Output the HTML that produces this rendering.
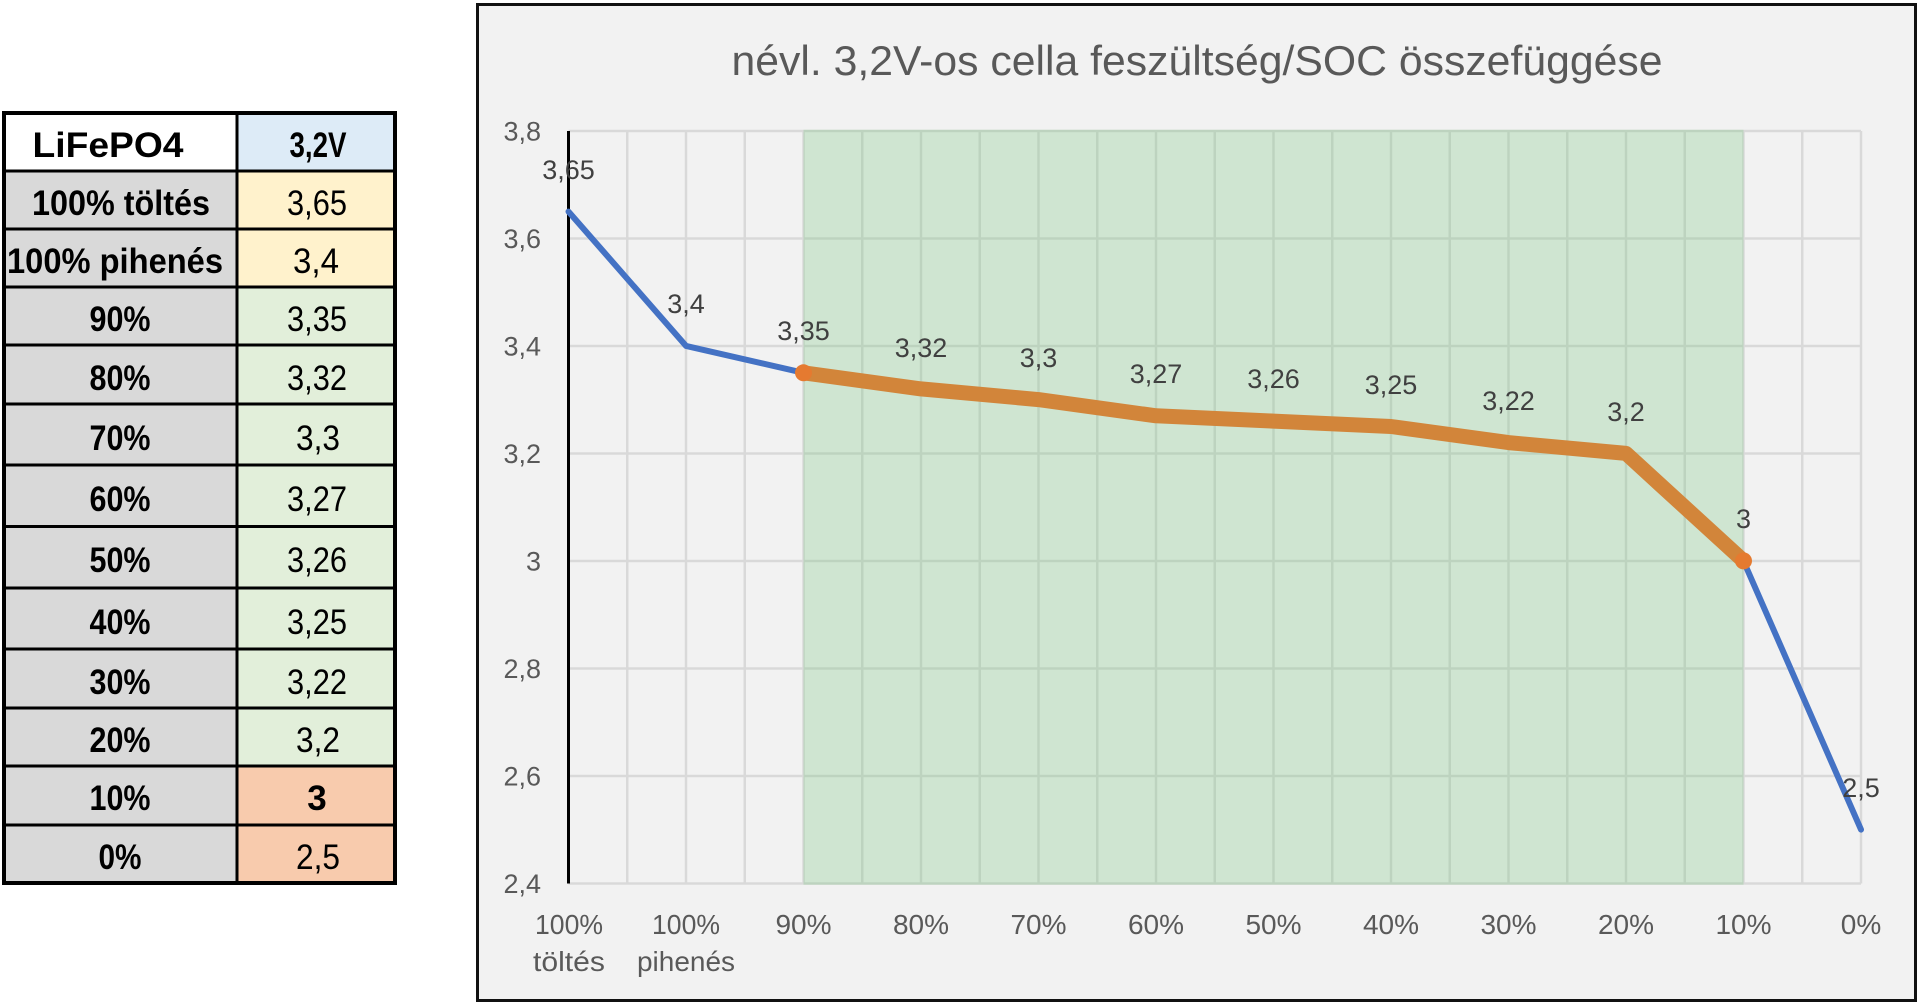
<!DOCTYPE html>
<html>
<head>
<meta charset="utf-8">
<style>
  html,body{margin:0;padding:0;background:#fff;}
  svg{display:block;}
  text{font-family:"Liberation Sans", Arial, sans-serif;}
</style>
</head>
<body>
<svg width="1920" height="1005" viewBox="0 0 1920 1005" xmlns="http://www.w3.org/2000/svg">
  <rect x="0" y="0" width="1920" height="1005" fill="#ffffff"/>

  <!-- ================= TABLE ================= -->
  <rect x="3" y="112.5" width="234" height="58.5" fill="#ffffff"/>
  <rect x="3" y="171" width="234" height="712" fill="#d9d9d9"/>
  <rect x="237" y="112.5" width="158" height="58.5" fill="#ddebf7"/>
  <rect x="237" y="171" width="158" height="116" fill="#fff2cc"/>
  <rect x="237" y="287" width="158" height="479" fill="#e2efda"/>
  <rect x="237" y="766" width="158" height="117" fill="#f8cbad"/>

  <g stroke="#000" stroke-width="3">
    <line x1="3" y1="171" x2="395" y2="171"/>
    <line x1="3" y1="229" x2="395" y2="229"/>
    <line x1="3" y1="287" x2="395" y2="287"/>
    <line x1="3" y1="345" x2="395" y2="345"/>
    <line x1="3" y1="404" x2="395" y2="404"/>
    <line x1="3" y1="465" x2="395" y2="465"/>
    <line x1="3" y1="526.5" x2="395" y2="526.5"/>
    <line x1="3" y1="588" x2="395" y2="588"/>
    <line x1="3" y1="649" x2="395" y2="649"/>
    <line x1="3" y1="708" x2="395" y2="708"/>
    <line x1="3" y1="766" x2="395" y2="766"/>
    <line x1="3" y1="825" x2="395" y2="825"/>
    <line x1="237" y1="112.5" x2="237" y2="883"/>
  </g>
  <rect x="4" y="113" width="391" height="770" fill="none" stroke="#000" stroke-width="4"/>

  <g font-weight="bold" font-size="35" fill="#000" text-anchor="middle">
    <text x="108" y="157" textLength="151" lengthAdjust="spacingAndGlyphs">LiFePO4</text>
    <text x="121" y="215" textLength="178" lengthAdjust="spacingAndGlyphs">100% töltés</text>
    <text x="115" y="273" textLength="216" lengthAdjust="spacingAndGlyphs">100% pihenés</text>
    <text x="120" y="331" textLength="61" lengthAdjust="spacingAndGlyphs">90%</text>
    <text x="120" y="390" textLength="61" lengthAdjust="spacingAndGlyphs">80%</text>
    <text x="120" y="450" textLength="61" lengthAdjust="spacingAndGlyphs">70%</text>
    <text x="120" y="511" textLength="61" lengthAdjust="spacingAndGlyphs">60%</text>
    <text x="120" y="572" textLength="61" lengthAdjust="spacingAndGlyphs">50%</text>
    <text x="120" y="634" textLength="61" lengthAdjust="spacingAndGlyphs">40%</text>
    <text x="120" y="694" textLength="61" lengthAdjust="spacingAndGlyphs">30%</text>
    <text x="120" y="752" textLength="61" lengthAdjust="spacingAndGlyphs">20%</text>
    <text x="120" y="810" textLength="61" lengthAdjust="spacingAndGlyphs">10%</text>
    <text x="120" y="869" textLength="43" lengthAdjust="spacingAndGlyphs">0%</text>
  </g>
  <g font-size="35" fill="#000" text-anchor="middle">
    <text x="318" y="157" font-weight="bold" textLength="57" lengthAdjust="spacingAndGlyphs">3,2V</text>
    <text x="317" y="215" textLength="60" lengthAdjust="spacingAndGlyphs">3,65</text>
    <text x="316" y="273" textLength="46" lengthAdjust="spacingAndGlyphs">3,4</text>
    <text x="317" y="331" textLength="60" lengthAdjust="spacingAndGlyphs">3,35</text>
    <text x="317" y="390" textLength="60" lengthAdjust="spacingAndGlyphs">3,32</text>
    <text x="318" y="450" textLength="44" lengthAdjust="spacingAndGlyphs">3,3</text>
    <text x="317" y="511" textLength="60" lengthAdjust="spacingAndGlyphs">3,27</text>
    <text x="317" y="572" textLength="60" lengthAdjust="spacingAndGlyphs">3,26</text>
    <text x="317" y="634" textLength="60" lengthAdjust="spacingAndGlyphs">3,25</text>
    <text x="317" y="694" textLength="60" lengthAdjust="spacingAndGlyphs">3,22</text>
    <text x="318" y="752" textLength="44" lengthAdjust="spacingAndGlyphs">3,2</text>
    <text x="317" y="810" font-weight="bold">3</text>
    <text x="318" y="869" textLength="44" lengthAdjust="spacingAndGlyphs">2,5</text>
  </g>

  <!-- ================= CHART ================= -->
  <rect x="477.5" y="4.5" width="1438" height="996" fill="#f2f2f2" stroke="#111" stroke-width="3"/>

  <text x="1197" y="75" font-size="42" fill="#595959" text-anchor="middle" textLength="931" lengthAdjust="spacingAndGlyphs">névl. 3,2V-os cella feszültség/SOC összefüggése</text>

  <g stroke="#d9d9d9" stroke-width="2.5">
    <line x1="568.5" y1="131" x2="1861" y2="131"/>
    <line x1="568.5" y1="238.5" x2="1861" y2="238.5"/>
    <line x1="568.5" y1="346" x2="1861" y2="346"/>
    <line x1="568.5" y1="453.5" x2="1861" y2="453.5"/>
    <line x1="568.5" y1="561" x2="1861" y2="561"/>
    <line x1="568.5" y1="668.5" x2="1861" y2="668.5"/>
    <line x1="568.5" y1="776" x2="1861" y2="776"/>
    <line x1="568.5" y1="883.5" x2="1861" y2="883.5"/>

    <line x1="627.25" y1="131" x2="627.25" y2="883.5"/>
    <line x1="686" y1="131" x2="686" y2="883.5"/>
    <line x1="744.75" y1="131" x2="744.75" y2="883.5"/>
    <line x1="803.5" y1="131" x2="803.5" y2="883.5"/>
    <line x1="862.25" y1="131" x2="862.25" y2="883.5"/>
    <line x1="921" y1="131" x2="921" y2="883.5"/>
    <line x1="979.75" y1="131" x2="979.75" y2="883.5"/>
    <line x1="1038.5" y1="131" x2="1038.5" y2="883.5"/>
    <line x1="1097.25" y1="131" x2="1097.25" y2="883.5"/>
    <line x1="1156" y1="131" x2="1156" y2="883.5"/>
    <line x1="1214.75" y1="131" x2="1214.75" y2="883.5"/>
    <line x1="1273.5" y1="131" x2="1273.5" y2="883.5"/>
    <line x1="1332.25" y1="131" x2="1332.25" y2="883.5"/>
    <line x1="1391" y1="131" x2="1391" y2="883.5"/>
    <line x1="1449.75" y1="131" x2="1449.75" y2="883.5"/>
    <line x1="1508.5" y1="131" x2="1508.5" y2="883.5"/>
    <line x1="1567.25" y1="131" x2="1567.25" y2="883.5"/>
    <line x1="1626" y1="131" x2="1626" y2="883.5"/>
    <line x1="1684.75" y1="131" x2="1684.75" y2="883.5"/>
    <line x1="1743.5" y1="131" x2="1743.5" y2="883.5"/>
    <line x1="1802.25" y1="131" x2="1802.25" y2="883.5"/>
    <line x1="1861" y1="131" x2="1861" y2="883.5"/>
  </g>

  <rect x="803.5" y="129.75" width="940" height="755" fill="#75c77c" fill-opacity="0.28"/>

  <line x1="568.5" y1="131" x2="568.5" y2="883.5" stroke="#000" stroke-width="3"/>

  <g font-size="27" fill="#595959" text-anchor="end">
    <text x="541" y="140.5">3,8</text>
    <text x="541" y="248">3,6</text>
    <text x="541" y="355.5">3,4</text>
    <text x="541" y="463">3,2</text>
    <text x="541" y="570.5">3</text>
    <text x="541" y="678">2,8</text>
    <text x="541" y="785.5">2,6</text>
    <text x="541" y="893">2,4</text>
  </g>

  <g font-size="28" fill="#595959" text-anchor="middle">
    <text x="569" y="934" textLength="68" lengthAdjust="spacingAndGlyphs">100%</text>
    <text x="569" y="971" textLength="72" lengthAdjust="spacingAndGlyphs">töltés</text>
    <text x="686" y="934" textLength="68" lengthAdjust="spacingAndGlyphs">100%</text>
    <text x="686" y="971" textLength="98" lengthAdjust="spacingAndGlyphs">pihenés</text>
    <text x="803.5" y="934">90%</text>
    <text x="921" y="934">80%</text>
    <text x="1038.5" y="934">70%</text>
    <text x="1156" y="934">60%</text>
    <text x="1273.5" y="934">50%</text>
    <text x="1391" y="934">40%</text>
    <text x="1508.5" y="934">30%</text>
    <text x="1626" y="934">20%</text>
    <text x="1743.5" y="934">10%</text>
    <text x="1861" y="934">0%</text>
  </g>

  <polyline fill="none" stroke="#4472c4" stroke-width="6" stroke-linejoin="round" stroke-linecap="round"
    points="568.5,211.6 686,345.9 803.5,372.8 921,388.9 1038.5,399.6 1156,415.8 1273.5,421.1 1391,426.5 1508.5,442.6 1626,453.4 1743.5,560.9 1861,829.6"/>

  <polyline fill="none" stroke="#d2853a" stroke-width="15" stroke-linejoin="round" stroke-linecap="round"
    points="803.5,372.8 921,388.9 1038.5,399.6 1156,415.8 1273.5,421.1 1391,426.5 1508.5,442.6 1626,453.4 1743.5,560.9"/>
  <circle cx="803.5" cy="372.8" r="8.5" fill="#e57a30"/>
  <circle cx="1743.5" cy="560.9" r="8.5" fill="#e57a30"/>

  <g font-size="27" fill="#404040" text-anchor="middle">
    <text x="568.5" y="179">3,65</text>
    <text x="686" y="313">3,4</text>
    <text x="803.5" y="340">3,35</text>
    <text x="921" y="357">3,32</text>
    <text x="1038.5" y="367">3,3</text>
    <text x="1156" y="383">3,27</text>
    <text x="1273.5" y="388">3,26</text>
    <text x="1391" y="394">3,25</text>
    <text x="1508.5" y="410">3,22</text>
    <text x="1626" y="421">3,2</text>
    <text x="1743.5" y="528">3</text>
    <text x="1861" y="797">2,5</text>
  </g>
</svg>
</body>
</html>
